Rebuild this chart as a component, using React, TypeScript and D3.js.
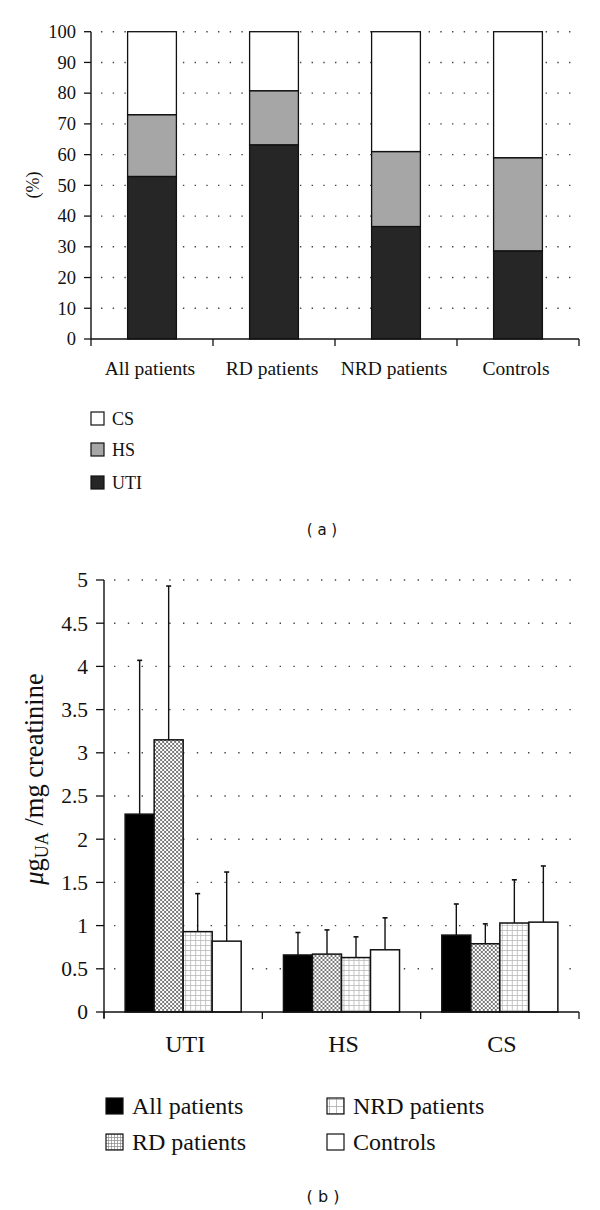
import React from 'react';
import * as d3 from 'd3';

// ---------- Chart (a) data ----------
const topCategories = ['All patients', 'RD patients', 'NRD patients', 'Controls'];
const topUTI = [52.9, 63.2, 36.6, 28.7];
const topHS = [20.1, 17.6, 24.4, 30.3];
const topCS = [27.0, 19.2, 39.0, 41.0];
const topKeys = ['UTI', 'HS', 'CS'];
const topTicks = [0, 10, 20, 30, 40, 50, 60, 70, 80, 90, 100];

// ---------- Chart (b) data ----------
const groups = ['UTI', 'HS', 'CS'];
const seriesNames = ['All patients', 'RD patients', 'NRD patients', 'Controls'];
const allPatientsMean = [2.29, 0.66, 0.89];
const allPatientsErr = [1.78, 0.26, 0.36];
const rdMean = [3.15, 0.67, 0.79];
const rdErr = [1.78, 0.28, 0.23];
const nrdMean = [0.93, 0.63, 1.03];
const nrdErr = [0.44, 0.24, 0.5];
const controlsMean = [0.82, 0.72, 1.04];
const controlsErr = [0.8, 0.37, 0.65];
const bottomTicks = [0, 0.5, 1, 1.5, 2, 2.5, 3, 3.5, 4, 4.5, 5];

const SERIF = '"Liberation Serif", "Times New Roman", serif';
const SANS = '"DejaVu Sans", Arial, sans-serif';

export default function App() {
  // ----- top chart scales -----
  const topRows = topCategories.map((c, i) => ({ cat: c, UTI: topUTI[i], HS: topHS[i], CS: topCS[i] }));
  const stack = d3.stack<any>().keys(topKeys)(topRows);
  const xTop = d3.scaleBand<string>().domain(topCategories).range([91, 579]).paddingInner(0.6).paddingOuter(0.3);
  const xTopBand = d3.scaleBand<string>().domain(topCategories).range([91, 579]);
  const yTop = d3.scaleLinear().domain([0, 100]).range([339, 31.7]);
  const topFill: Record<string, string> = { UTI: '#262626', HS: '#a6a6a6', CS: '#ffffff' };

  // ----- bottom chart scales -----
  const means = [allPatientsMean, rdMean, nrdMean, controlsMean];
  const errs = [allPatientsErr, rdErr, nrdErr, controlsErr];
  const x0 = d3.scaleBand<string>().domain(groups).range([104, 579]).paddingInner(0.267).paddingOuter(0.1335);
  const x0Band = d3.scaleBand<string>().domain(groups).range([104, 579]);
  const x1 = d3.scaleBand<string>().domain(seriesNames).range([0, x0.bandwidth()]);
  const yB = d3.scaleLinear().domain([0, 5]).range([1012, 580]);
  const fills = ['#000000', 'url(#crossHatch)', 'url(#gridLight)', '#ffffff'];
  const legendFills = ['#000000', 'url(#fineGrid)', 'url(#coarseGrid)', '#ffffff'];

  const topLegend = [
    { k: 'CS', y: 412 },
    { k: 'HS', y: 443 },
    { k: 'UTI', y: 476 },
  ];

  return (
    <svg width={600} height={1210} style={{ position: 'absolute', left: 0, top: 0, background: '#fff' }}>
      <defs>
        <pattern id="crossHatch" width={4} height={4} patternUnits="userSpaceOnUse">
          <rect width={4} height={4} fill="#fff" />
          <path d="M0,0 L4,4 M4,0 L0,4" stroke="#6a6a6a" strokeWidth={0.9} />
        </pattern>
        <pattern id="gridLight" width={5} height={5} patternUnits="userSpaceOnUse">
          <rect width={5} height={5} fill="#fff" />
          <path d="M0,0.5 H5 M0.5,0 V5" stroke="#b8b8b8" strokeWidth={0.8} />
        </pattern>
        <pattern id="fineGrid" width={3} height={3} patternUnits="userSpaceOnUse">
          <rect width={3} height={3} fill="#fff" />
          <path d="M0,0.5 H3 M0.5,0 V3" stroke="#888" strokeWidth={0.7} />
        </pattern>
        <pattern id="coarseGrid" width={7} height={7} patternUnits="userSpaceOnUse">
          <rect width={7} height={7} fill="#fff" />
          <path d="M0,0.5 H7 M0.5,0 V7" stroke="#aaa" strokeWidth={0.8} />
        </pattern>
      </defs>

      {/* ================= Chart (a) ================= */}
      {topTicks.filter((t) => t > 0).map((t) => (
        <line key={'tg' + t} x1={101} x2={579} y1={yTop(t)} y2={yTop(t)} stroke="#444" strokeWidth={1.4} strokeDasharray="1.4 10.3" />
      ))}
      {stack.map((layer) =>
        layer.map((d, i) => (
          <rect
            key={layer.key + i}
            x={xTop(topCategories[i])}
            width={xTop.bandwidth()}
            y={yTop(d[1])}
            height={yTop(d[0]) - yTop(d[1])}
            fill={topFill[layer.key as string]}
            stroke="#111"
            strokeWidth={1.3}
          />
        ))
      )}
      {/* axes */}
      <line x1={91} x2={91} y1={yTop(100)} y2={yTop(0)} stroke="#111" strokeWidth={1.4} />
      <line x1={91} x2={579} y1={yTop(0)} y2={yTop(0)} stroke="#111" strokeWidth={1.4} />
      {topTicks.map((t) => (
        <g key={'tt' + t}>
          <line x1={84} x2={91} y1={yTop(t)} y2={yTop(t)} stroke="#111" strokeWidth={1.3} />
          <text x={76} y={yTop(t)} dy="0.34em" textAnchor="end" fontFamily={SERIF} fontSize={18.5} fill="#111">
            {t}
          </text>
        </g>
      ))}
      {topCategories.map((c) => (
        <line key={'tx' + c} x1={xTopBand(c)} x2={xTopBand(c)} y1={339} y2={346} stroke="#111" strokeWidth={1.3} />
      ))}
      <line x1={579} x2={579} y1={339} y2={346} stroke="#111" strokeWidth={1.3} />
      {topCategories.map((c) => (
        <text key={'tl' + c} x={xTopBand(c)! + xTopBand.bandwidth() / 2 - 2} y={375} textAnchor="middle" fontFamily={SERIF} fontSize={19.5} fill="#111">
          {c}
        </text>
      ))}
      <text transform="translate(39,185) rotate(-90)" textAnchor="middle" fontFamily={SERIF} fontSize={18} fill="#111">
        (%)
      </text>
      {topLegend.map((l) => (
        <g key={'tlg' + l.k}>
          <rect x={91} y={l.y} width={13} height={13} fill={topFill[l.k]} stroke="#111" strokeWidth={1.2} />
          <text x={112} y={l.y + 13} fontFamily={SERIF} fontSize={18} fill="#111">
            {l.k}
          </text>
        </g>
      ))}
      <text x={322} y={535} textAnchor="middle" fontFamily={SANS} fontSize={15} fill="#111" xmlSpace="preserve">
        ( a )
      </text>

      {/* ================= Chart (b) ================= */}
      {bottomTicks.filter((t) => t > 0).map((t) => (
        <line key={'bg' + t} x1={114} x2={579} y1={yB(t)} y2={yB(t)} stroke="#444" strokeWidth={1.4} strokeDasharray="1.4 12.4" />
      ))}
      {groups.map((g, gi) => (
        <g key={'grp' + g} transform={`translate(${x0(g)},0)`}>
          {seriesNames.map((s, si) => {
            const v = means[si][gi];
            const e = errs[si][gi];
            const cx = x1(s)! + x1.bandwidth() / 2;
            return (
              <g key={s}>
                <line x1={cx} x2={cx} y1={yB(v)} y2={yB(v + e)} stroke="#111" strokeWidth={1.4} />
                <line x1={cx - 2.5} x2={cx + 2.5} y1={yB(v + e)} y2={yB(v + e)} stroke="#111" strokeWidth={1.6} />
                <rect x={x1(s)} width={x1.bandwidth()} y={yB(v)} height={yB(0) - yB(v)} fill={fills[si]} stroke="#111" strokeWidth={1.5} />
              </g>
            );
          })}
        </g>
      ))}
      <line x1={104} x2={104} y1={yB(5)} y2={yB(0) + 6} stroke="#111" strokeWidth={1.4} />
      <line x1={104} x2={579} y1={yB(0)} y2={yB(0)} stroke="#111" strokeWidth={1.4} />
      {bottomTicks.map((t) => (
        <g key={'bt' + t}>
          <line x1={96} x2={104} y1={yB(t)} y2={yB(t)} stroke="#111" strokeWidth={1.3} />
          <text x={88} y={yB(t)} dy="0.34em" textAnchor="end" fontFamily={SERIF} fontSize={21.5} fill="#111">
            {t}
          </text>
        </g>
      ))}
      {groups.map((g) => (
        <line key={'bx' + g} x1={x0Band(g)} x2={x0Band(g)} y1={1012} y2={1019} stroke="#111" strokeWidth={1.3} />
      ))}
      <line x1={579} x2={579} y1={1012} y2={1019} stroke="#111" strokeWidth={1.3} />
      {groups.map((g) => (
        <text key={'bl' + g} x={x0Band(g)! + x0Band.bandwidth() / 2 + 2} y={1052} textAnchor="middle" fontFamily={SERIF} fontSize={24} fill="#111">
          {g}
        </text>
      ))}
      <text transform="translate(43,779) rotate(-90)" textAnchor="middle" fontFamily={SERIF} fontSize={26.5} fill="#111">
        <tspan fontStyle="italic">μ</tspan>
        <tspan>g</tspan>
        <tspan fontSize={18} dy={5}>UA</tspan>
        <tspan dy={-5}> /mg creatinine</tspan>
      </text>
      {seriesNames.map((s, si) => {
        const col = si === 0 || si === 1 ? 0 : 1;
        const row = si === 0 || si === 2 ? 0 : 1;
        const sx = col === 0 ? 106 : 327;
        const sy = row === 0 ? 1098 : 1134;
        return (
          <g key={'bleg' + si}>
            <rect x={sx} y={sy} width={17} height={16} fill={legendFills[si]} stroke="#111" strokeWidth={1.2} />
            <text x={sx + 26} y={sy + 16} fontFamily={SERIF} fontSize={24} fill="#111">
              {s}
            </text>
          </g>
        );
      })}
      <text x={323} y={1202} textAnchor="middle" fontFamily={SANS} fontSize={16} fill="#111" xmlSpace="preserve">
        ( b )
      </text>
    </svg>
  );
}
